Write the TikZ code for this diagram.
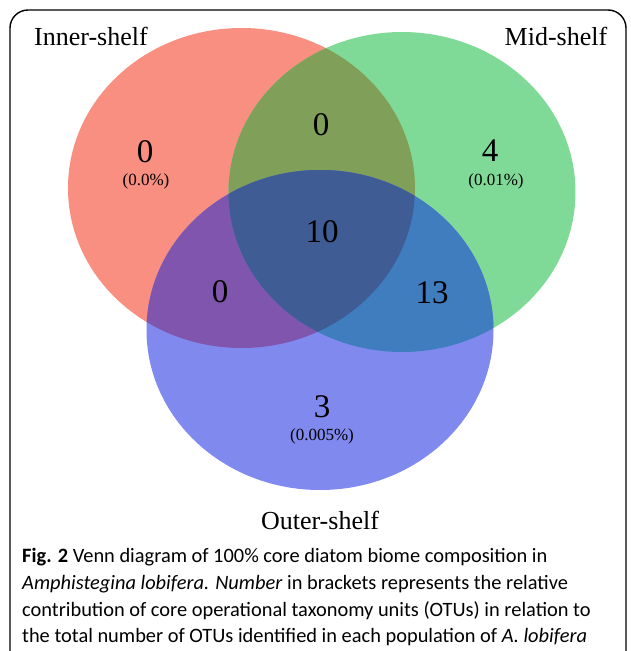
\documentclass[tikz,border=0pt]{standalone}
\usepackage{fontspec}
\setmainfont{Liberation Serif}
\newfontfamily\capfont{Carlito}
\usetikzlibrary{positioning}

\definecolor{innercol}{RGB}{249,143,128}
\definecolor{midcol}{RGB}{128,218,151}
\definecolor{outercol}{RGB}{128,137,238}
\definecolor{inmidcol}{RGB}{128,160,90}
\definecolor{inoutcol}{RGB}{128,85,173}
\definecolor{midoutcol}{RGB}{64,125,191}
\definecolor{allcol}{RGB}{63,92,148}

\tikzset{
  setname/.style={font=\fontsize{26}{30}\selectfont, inner sep=0pt},
  count/.style={font=\fontsize{33}{36}\selectfont, inner sep=0pt},
  share/.style={font=\fontsize{17}{20}\selectfont, inner sep=0pt},
  capline/.style={font=\capfont\fontsize{20.4}{25}\selectfont, anchor=base west, inner sep=0pt},
  venn/.style={x radius=173.5pt, y radius=160pt}
}

\begin{document}
\begin{tikzpicture}[x=1pt, y=-1pt]
            \useasboundingbox (0,0) rectangle (630,651);
            \fill[white] (0,0) rectangle (630,651);

            % Frame
            \draw[line width=1.4pt, rounded corners=18pt] (10,660) -- (10,10) -- (626,10) -- (626,660);

            % Centres
            \coordinate (inner) at (241.5,188);
            \coordinate (mid) at (402,192);
            \coordinate (outer) at (320,330);

            % Sets
            \fill[innercol] (inner) ellipse [venn];
            \fill[midcol] (mid) ellipse [venn];
            \fill[outercol] (outer) ellipse [venn];

            % Overlaps
            \begin{scope}
                \clip (inner) ellipse [venn];
                \fill[inmidcol] (mid) ellipse [venn];
                \fill[inoutcol] (outer) ellipse [venn];
            \end{scope}
            \begin{scope}
                \clip (mid) ellipse [venn];
                \fill[midoutcol] (outer) ellipse [venn];
            \end{scope}
            \begin{scope}
                \clip (inner) ellipse [venn];
                \clip (mid) ellipse [venn];
                \fill[allcol] (outer) ellipse [venn];
            \end{scope}

            % Set names
            \node[setname, anchor=base] (innername) at (91,45) {Inner-shelf};
            \node[setname, anchor=base] (midname) at (556,45) {Mid-shelf};
            \node[setname, anchor=base] (outername) at (320,529) {Outer-shelf};

            % Counts
            \node[count] (innonly) at (145,152) {0};
            \node[share] (innshare) at (146,181) {(0.0\%)};
            \node[count] (midonly) at (490,151) {4};
            \node[share] (midshare) at (496,181) {(0.01\%)};
            \node[count] (outonly) at (322,407) {3};
            \node[share] (outshare) at (322,436) {(0.005\%)};
            \node[count] (inmid) at (321,125) {0};
            \node[count] (inout) at (220,292) {0};
            \node[count] (midout) at (432,293) {13};
            \node[count] (core) at (322,232) {10};

            % Caption
            \node[capline] (cap1) at (22,562) {\textbf{Fig. 2} Venn diagram of 100\% core diatom biome composition in};
            \node[capline] (cap2) at (22,589) {\textit{Amphistegina lobifera. Number} in brackets represents the relative};
            \node[capline] (cap3) at (22,616) {contribution of core operational taxonomy units (OTUs) in relation to};
            \node[capline] (cap4) at (22,642) {the total number of OTUs identified in each population of \textit{A. lobifera}};

        \end{tikzpicture}
\end{document}
